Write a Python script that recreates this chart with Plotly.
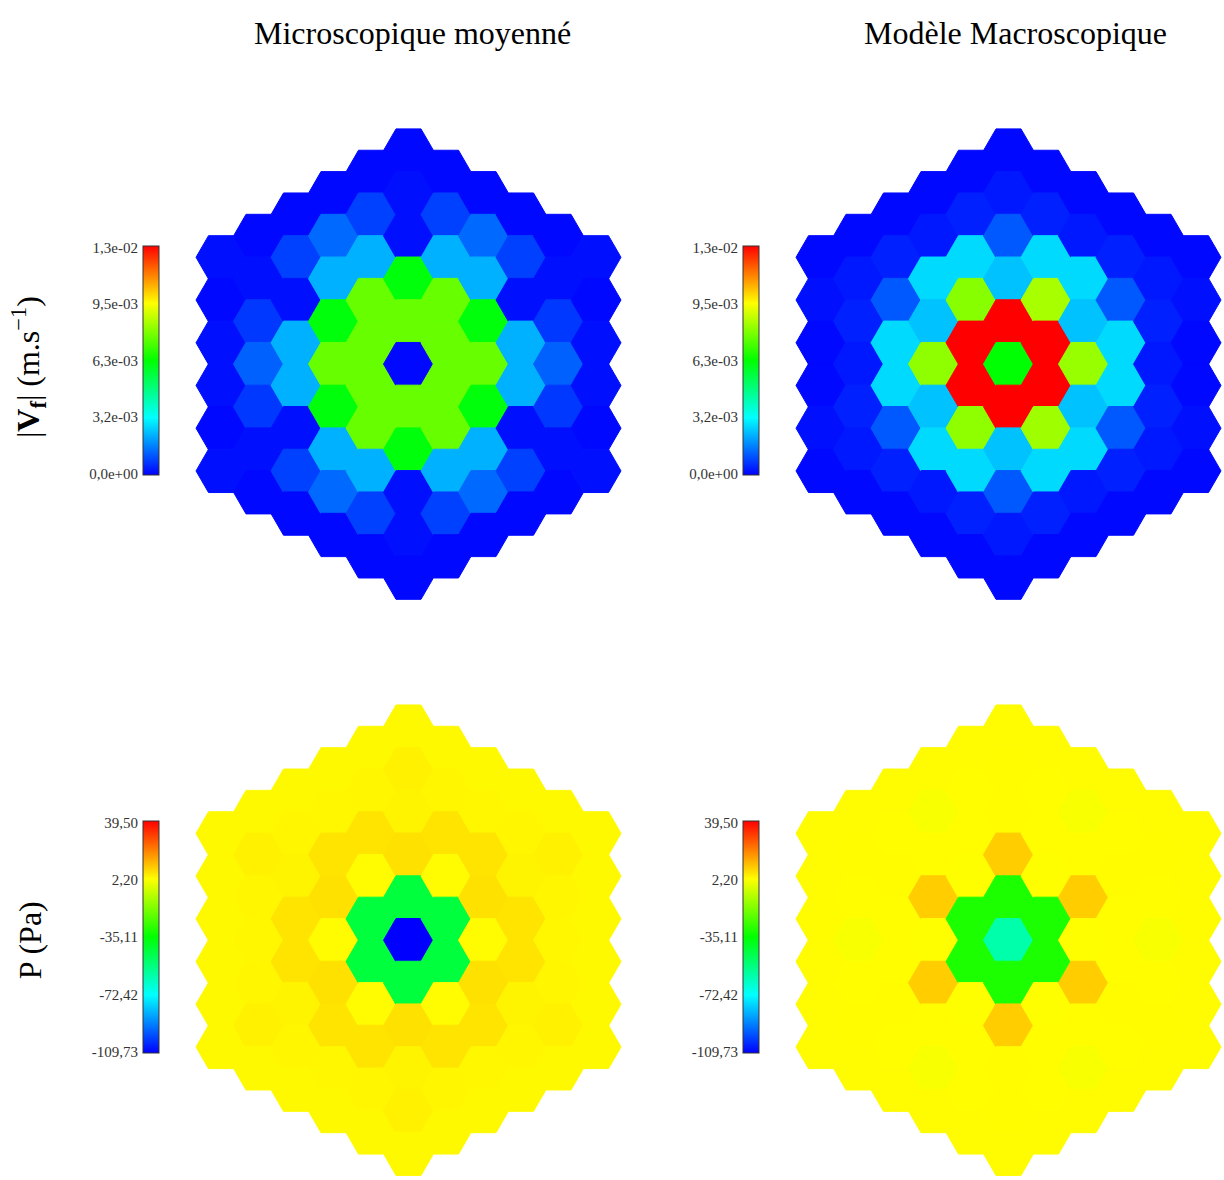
import math
import plotly.graph_objects as go

# ---------------- DATA ----------------
# Hexagonal assembly: 11 columns (q = -5..5) of flat-top hexagonal cells,
# values listed per column from top to bottom.
N_RING = 5

vf_micro = [
    [0.0002, 0.0001, 0.0002, 0.0002, 0.0001, 0.0002],
    [0.0001, 0.0002, 0.0007, 0.0012, 0.0007, 0.0002, 0.0001],
    [0.0001, 0.0008, 0.0002, 0.0022, 0.0022, 0.0002, 0.0008, 0.0001],
    [0.0001, 0.0013, 0.0022, 0.0062, 0.0076, 0.0062, 0.0022, 0.0013, 0.0001],
    [0.0001, 0.0008, 0.0022, 0.0076, 0.0076, 0.0076, 0.0076, 0.0022, 0.0008, 0.0001],
    [0.0001, 0.0002, 0.0002, 0.0062, 0.0076, 0.0001, 0.0076, 0.0062, 0.0002, 0.0002, 0.0001],
    [0.0001, 0.0008, 0.0022, 0.0076, 0.0076, 0.0076, 0.0076, 0.0022, 0.0008, 0.0001],
    [0.0001, 0.0013, 0.0022, 0.0062, 0.0076, 0.0062, 0.0022, 0.0013, 0.0001],
    [0.0001, 0.0008, 0.0002, 0.0022, 0.0022, 0.0002, 0.0008, 0.0001],
    [0.0001, 0.0002, 0.0007, 0.0012, 0.0007, 0.0002, 0.0001],
    [0.0002, 0.0001, 0.0002, 0.0002, 0.0001, 0.0002],
]

vf_macro = [
    [0.0001, 0.0002, 0.0001, 0.0001, 0.0002, 0.0001],
    [0.0001, 0.0003, 0.0004, 0.0003, 0.0004, 0.0003, 0.0001],
    [0.0001, 0.0004, 0.0011, 0.0027, 0.0027, 0.0011, 0.0004, 0.0001],
    [0.0001, 0.0003, 0.0027, 0.0024, 0.0081, 0.0024, 0.0027, 0.0003, 0.0001],
    [0.0001, 0.0004, 0.0027, 0.0080, 0.0128, 0.0128, 0.0081, 0.0027, 0.0004, 0.0001],
    [0.0001, 0.0003, 0.0011, 0.0024, 0.0128, 0.0063, 0.0128, 0.0024, 0.0011, 0.0003, 0.0001],
    [0.0001, 0.0004, 0.0027, 0.0084, 0.0128, 0.0128, 0.0083, 0.0027, 0.0004, 0.0001],
    [0.0001, 0.0003, 0.0027, 0.0024, 0.0082, 0.0024, 0.0027, 0.0003, 0.0001],
    [0.0001, 0.0004, 0.0011, 0.0027, 0.0027, 0.0011, 0.0004, 0.0001],
    [0.0001, 0.0003, 0.0004, 0.0003, 0.0004, 0.0003, 0.0001],
    [0.0001, 0.0002, 0.0001, 0.0001, 0.0002, 0.0001],
]

p_micro = [
    [3.0, 3.1, 3.0, 3.0, 3.1, 3.0],
    [3.0, 4.3, 3.5, 3.4, 3.5, 4.3, 3.0],
    [3.0, 3.5, 3.8, 6.1, 6.1, 3.8, 3.5, 3.0],
    [3.0, 3.4, 6.1, 6.6, 2.8, 6.6, 6.1, 3.4, 3.0],
    [3.0, 3.5, 6.1, 2.8, -44.0, -44.0, 2.8, 6.1, 3.5, 3.0],
    [3.0, 4.3, 3.8, 6.6, -44.0, -109.7, -44.0, 6.6, 3.8, 4.3, 3.0],
    [3.0, 3.5, 6.1, 2.8, -44.0, -44.0, 2.8, 6.1, 3.5, 3.0],
    [3.0, 3.4, 6.1, 6.6, 2.8, 6.6, 6.1, 3.4, 3.0],
    [3.0, 3.5, 3.8, 6.1, 6.1, 3.8, 3.5, 3.0],
    [3.0, 4.3, 3.5, 3.4, 3.5, 4.3, 3.0],
    [3.0, 3.1, 3.0, 3.0, 3.1, 3.0],
]

p_macro = [
    [2.8, 2.8, 2.7, 2.8, 2.8, 2.8],
    [2.8, 2.7, 2.5, 1.0, 2.5, 2.7, 2.8],
    [2.8, 2.5, 2.7, 2.5, 2.5, 2.7, 2.5, 2.8],
    [2.8, 1.0, 2.5, 9.5, 2.4, 9.5, 2.5, 1.0, 2.8],
    [2.8, 2.5, 2.5, 2.4, -31.0, -31.0, 2.4, 2.5, 2.5, 2.8],
    [2.8, 2.7, 2.7, 9.5, -31.0, -60.0, -31.0, 9.5, 2.7, 2.7, 2.8],
    [2.8, 2.5, 2.5, 2.4, -31.0, -31.0, 2.4, 2.5, 2.5, 2.8],
    [2.8, 1.0, 2.5, 9.5, 2.4, 9.5, 2.5, 1.0, 2.8],
    [2.8, 2.5, 2.7, 2.5, 2.5, 2.7, 2.5, 2.8],
    [2.8, 2.7, 2.5, 1.0, 2.5, 2.7, 2.8],
    [2.8, 2.8, 2.7, 2.8, 2.8, 2.8],
]

vf_range = [0.0, 0.01265]
vf_tickvals = [0.0, 0.0031625, 0.006325, 0.0094875, 0.01265]
vf_ticktext = ["0,0e+00", "3,2e-03", "6,3e-03", "9,5e-03", "1,3e-02"]

p_range = [-109.73, 39.50]
p_tickvals = [-109.73, -72.4225, -35.115, 2.1925, 39.50]
p_ticktext = ["-109,73", "-72,42", "-35,11", "2,20", "39,50"]

col_titles = ["Microscopique moyenné", "Modèle Macroscopique"]
row_titles = ["|<b>V</b><sub><b>f</b></sub>| (m.s<sup>−1</sup>)", "P (Pa)"]

# ---------------- STYLE / LAYOUT ----------------
W, H = 1224, 1180
PX = 25.0  # pixels per data unit (hexagon circumradius = 1 unit)
SERIF = "Liberation Serif, Times New Roman, serif"
RAINBOW = [[0.0, "rgb(0,0,255)"], [0.25, "rgb(0,255,255)"], [0.5, "rgb(0,255,0)"],
           [0.75, "rgb(255,255,0)"], [1.0, "rgb(255,0,0)"]]


def cells(cols):
    xs, ys, vs = [], [], []
    for i, col in enumerate(cols):
        q = i - N_RING
        n = len(col)
        for k, v in enumerate(col):
            sy = k - (n - 1) / 2.0
            xs.append(1.5 * q)
            ys.append(-math.sqrt(3) * sy)
            vs.append(v)
    return xs, ys, vs


panels = [
    dict(data=vf_micro, rng=vf_range, center=(408.5, 361), xd=[0, 0.5], yd=[0.5, 1], cb=(143, 243, 472)),
    dict(data=vf_macro, rng=vf_range, center=(1008.5, 361), xd=[0.5, 1], yd=[0.5, 1], cb=(743, 243, 472)),
    dict(data=p_micro, rng=p_range, center=(408.5, 945), xd=[0, 0.5], yd=[0, 0.5], cb=(143, 826, 1058)),
    dict(data=p_macro, rng=p_range, center=(1008.5, 945), xd=[0.5, 1], yd=[0, 0.5], cb=(743, 826, 1058)),
]
label_sets = [(vf_tickvals, vf_ticktext), (vf_tickvals, vf_ticktext),
              (p_tickvals, p_ticktext), (p_tickvals, p_ticktext)]

fig = go.Figure()
layout_axes = {}

for i, p in enumerate(panels):
    n = i + 1
    xs, ys, vs = cells(p["data"])
    cx, cy = p["center"]
    cbx, cbt, cbb = p["cb"]
    xname = "x" if n == 1 else f"x{n}"
    yname = "y" if n == 1 else f"y{n}"
    fig.add_trace(go.Scatter(
        x=xs, y=ys, mode="markers", xaxis=xname, yaxis=yname,
        cliponaxis=False, hoverinfo="skip", showlegend=False,
        marker=dict(
            symbol="hexagon2", size=2 * PX, color=vs, colorscale=RAINBOW,
            cmin=p["rng"][0], cmax=p["rng"][1],
            line=dict(width=1, color=vs, colorscale=RAINBOW, cmin=p["rng"][0], cmax=p["rng"][1]),
            showscale=True,
            colorbar=dict(
                x=cbx / W, xanchor="left", xpad=0,
                y=1 - (cbt + cbb) / 2.0 / H, yanchor="middle", ypad=0,
                lenmode="pixels", len=cbb - cbt,
                thicknessmode="pixels", thickness=16,
                outlinewidth=1, outlinecolor="#333333",
                showticklabels=False, ticks="",
            ),
        ),
    ))
    x0, x1 = p["xd"]
    y0, y1 = p["yd"]
    layout_axes[("xaxis" if n == 1 else f"xaxis{n}")] = dict(
        domain=p["xd"], visible=False, fixedrange=True,
        range=[(x0 * W - cx) / PX, (x1 * W - cx) / PX], anchor=yname)
    layout_axes[("yaxis" if n == 1 else f"yaxis{n}")] = dict(
        domain=p["yd"], visible=False, fixedrange=True,
        range=[(cy - (1 - y0) * H) / PX, (cy - (1 - y1) * H) / PX], anchor=xname)

    # colour-scale tick labels drawn on a dedicated axis left of the bar
    m = n + 4
    tv, tt = label_sets[i]
    fig.add_trace(go.Scatter(x=[None], y=[None], xaxis=xname, yaxis=f"y{m}",
                             mode="markers", showlegend=False, hoverinfo="skip"))
    layout_axes[f"yaxis{m}"] = dict(
        domain=[1 - cbb / H, 1 - cbt / H], range=p["rng"], anchor="free",
        position=cbx / W, side="left", showgrid=False, zeroline=False,
        showline=False, ticks="", tickvals=tv, ticktext=tt, fixedrange=True,
        ticklabelstandoff=5,
        tickfont=dict(family=SERIF, size=15, color="#333333"))

annotations = [
    dict(text=col_titles[0], x=412 / W, y=1 - 25 / H, xref="paper", yref="paper",
         showarrow=False, xanchor="center", yanchor="middle",
         font=dict(family=SERIF, size=32, color="black")),
    dict(text=col_titles[1], x=1015 / W, y=1 - 25 / H, xref="paper", yref="paper",
         showarrow=False, xanchor="center", yanchor="middle",
         font=dict(family=SERIF, size=32, color="black")),
    dict(text=row_titles[0], x=28 / W, y=1 - 364 / H, xref="paper", yref="paper",
         showarrow=False, xanchor="center", yanchor="middle", textangle=-90,
         font=dict(family=SERIF, size=32, color="black")),
    dict(text=row_titles[1], x=30 / W, y=1 - 945 / H, xref="paper", yref="paper",
         showarrow=False, xanchor="center", yanchor="middle", textangle=-90,
         font=dict(family=SERIF, size=32, color="black")),
]

fig.update_layout(
    width=W, height=H, margin=dict(l=0, r=0, t=0, b=0, pad=0),
    paper_bgcolor="white", plot_bgcolor="rgba(0,0,0,0)",
    showlegend=False, hovermode=False, annotations=annotations,
    **layout_axes,
)

fig.write_html("out.html", config={"displayModeBar": False},
               post_script="document.body.style.margin='0';document.body.style.overflow='hidden';")
